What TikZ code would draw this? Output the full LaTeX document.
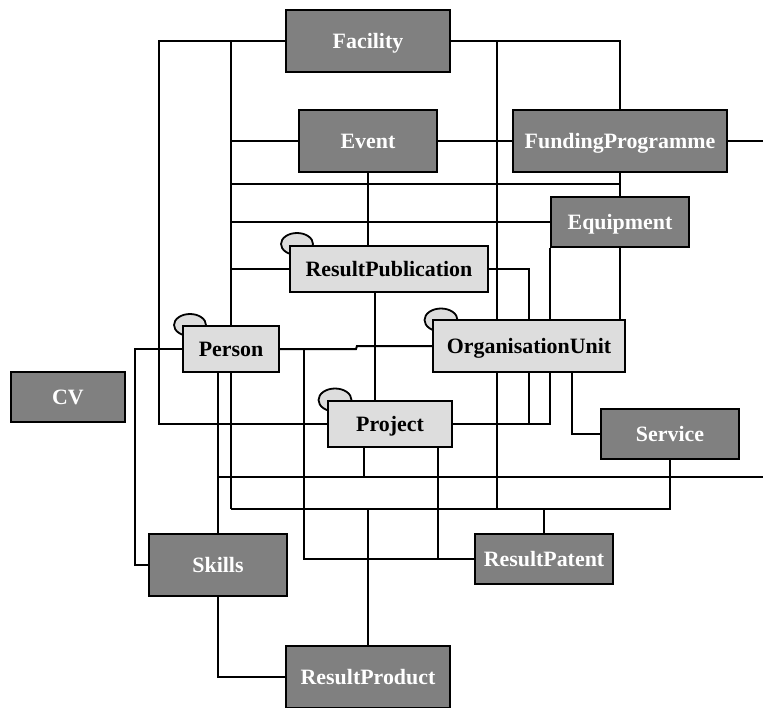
\documentclass[tikz,border=0pt]{standalone}
\usepackage{fontspec}
\setmainfont{Liberation Serif}
\usetikzlibrary{backgrounds}
\definecolor{boxdark}{HTML}{808080}
\definecolor{boxlight}{HTML}{DDDDDD}
\begin{document}
\begin{tikzpicture}[x=1bp,y=-1bp,
  ent/.style={draw=black, line width=2bp, inner sep=0pt,
              text height=14.6bp, text depth=0pt,
              font=\fontsize{21.9bp}{24bp}\selectfont\bfseries},
  dark/.style={ent, fill=boxdark, text=white},
  light/.style={ent, fill=boxlight, text=black},
  link/.style={line width=2bp, draw=black},
  tab/.style={draw=black, fill=boxlight, line width=1.8bp}]
\useasboundingbox (0,0) rectangle (763,708);

% entity boxes
\node[dark, minimum width=164bp, minimum height=62bp] (Facility) at (368,41) {Facility};
\node[dark, minimum width=138bp, minimum height=62bp] (Event) at (368,141) {Event};
\node[dark, minimum width=214bp, minimum height=62bp] (FundingProgramme) at (620,141) {FundingProgramme};
\node[dark, minimum width=138bp, minimum height=50bp] (Equipment) at (620,222) {Equipment};
\node[light, minimum width=198bp, minimum height=46bp] (ResultPublication) at (389,269) {ResultPublication};
\node[light, minimum width=96bp, minimum height=46bp] (Person) at (231,349) {Person};
\node[light, minimum width=192bp, minimum height=52bp] (OrganisationUnit) at (529,346) {OrganisationUnit};
\node[light, minimum width=124bp, minimum height=46bp] (Project) at (390,424) {Project};
\node[dark, minimum width=138bp, minimum height=50bp] (Service) at (670,434) {Service};
\node[dark, minimum width=114bp, minimum height=50bp] (CV) at (68,397) {CV};
\node[dark, minimum width=138bp, minimum height=62bp] (Skills) at (218,565) {Skills};
\node[dark, minimum width=138bp, minimum height=50bp] (ResultPatent) at (544,559) {ResultPatent};
\node[dark, minimum width=164bp, minimum height=62bp] (ResultProduct) at (368,677) {ResultProduct};

% rail corners and free ends
\coordinate (cFL) at (159,41);
\coordinate (cA) at (231,41);
\coordinate (cB) at (497,41);
\coordinate (bA) at (231,509);
\coordinate (bB) at (497,509);
\coordinate (eR1) at (763,141);
\coordinate (eR2) at (763,477);
\coordinate (cPL) at (135,349);
\coordinate (cPR) at (304,349);
\coordinate (jog1) at (356,349);
\coordinate (jog2) at (357,346);
\coordinate (cSk) at (218,477);
\coordinate (hE) at (231,184);
\coordinate (hQ) at (231,222);
\coordinate (cPO) at (529,424);

\begin{pgfonlayer}{background}
\fill[white] (0,0) rectangle (763,708);
% connectors
\draw[link] (Facility.west) -- (cFL) |- (Project.west);
\draw[link] (Facility.east) -| (FundingProgramme.north);
\draw[link] (cA) -- (bA);
\draw[link] (cB) -- (bB);
\draw[link] (Service.south) |- (bA);
\draw[link] (ResultPatent.north) -- (ResultPatent.north |- bA);
\draw[link] (ResultProduct.north) -- (ResultProduct.north |- bA);
\draw[link] (Event.west) -- (Event.west -| cA);
\draw[link] (Event.east) -- (FundingProgramme.west);
\draw[link] (FundingProgramme.east) -- (eR1);
\draw[link] (FundingProgramme.south) -- (Equipment.north);
\draw[link] (hE) -- (hE -| Equipment.north);
\draw[link] (hQ) -- (Equipment.west);
\draw[link] (Event.south) -- (Event.south |- ResultPublication.north);
\draw[link] (ResultPublication.west -| cA) -- (ResultPublication.west);
\draw[link] (ResultPublication.east) -| (cPO);
\draw[link] (Equipment.south west) |- (Project.east);
\draw[link] (Equipment.south) -- (Equipment.south |- OrganisationUnit.north);
\draw[link] ([xshift=43bp]OrganisationUnit.south) |- (Service.west);
\draw[link] (Person.west) -- (cPL) |- (Skills.west);
\draw[link] (Person.east) -- (jog1) -- (jog2) -- (OrganisationUnit.west);
\draw[link] (cPR) |- (ResultPatent.west);
\draw[link] (Skills.north |- Person.south) -- (Skills.north);
\draw[link] (cSk) -- (eR2);
\draw[link] ([xshift=-26bp]Project.south) -- ([xshift=-26bp]Project.south |- cSk);
\draw[link] ([xshift=48bp]Project.south) -- ([xshift=48bp]Project.south |- ResultPatent.west);
\draw[link] ([xshift=-14bp]ResultPublication.south) -- ([xshift=-14bp]ResultPublication.south |- Project.north);
\draw[link] (Skills.south) |- (ResultProduct.west);
% tabs on the light boxes
\draw[tab] (297,244) ellipse [x radius=16bp, y radius=11bp];
\draw[tab] (190,325) ellipse [x radius=16bp, y radius=11bp];
\draw[tab] (441,320) ellipse [x radius=16.5bp, y radius=11.5bp];
\draw[tab] (335,400) ellipse [x radius=16.5bp, y radius=11.5bp];
\end{pgfonlayer}
\end{tikzpicture}
\end{document}
